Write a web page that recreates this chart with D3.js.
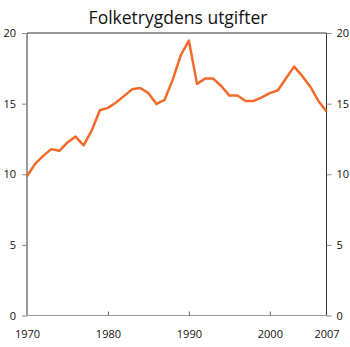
<!DOCTYPE html>
<html><head><meta charset="utf-8">
<script src="https://cdn.jsdelivr.net/npm/d3@7"></script>
<style>body{margin:0;background:#fff}svg{display:block}</style>
</head><body>
<svg id="c" width="350" height="347"></svg>
<script>
const title = "Folketrygdens utgifter";
const years = d3.range(1970, 2008);
const values = [9.85,10.74,11.3,11.78,11.66,12.25,12.67,12.04,13.1,14.53,
  14.7,15.08,15.55,16.02,16.11,15.74,14.98,15.27,16.7,18.44,
  19.46,16.4,16.77,16.77,16.25,15.57,15.57,15.19,15.19,15.45,
  15.74,15.95,16.8,17.62,16.96,16.2,15.19,14.44];
const yTicks = [0,5,10,15,20];
const xTicks = [1970,1980,1990,2000,2007];

const svg = d3.select("#c");
const L = 27, R = 326.5, T = 33, B = 315.5;
const x = d3.scaleLinear().domain([1970,2007]).range([L,R]);
const y = d3.scaleLinear().domain([0,20]).range([B,T]);
const font = "'Open Sans', sans-serif";

svg.append("text").attr("x", 178).attr("y", 24).attr("text-anchor","middle")
  .attr("font-family", font).attr("font-size", 17.5).attr("fill","#111").text(title);

svg.append("line").attr("x1",L).attr("x2",R).attr("y1",T).attr("y2",T)
  .attr("stroke","#333").attr("stroke-width",1);

const ya = svg.append("g").attr("transform",`translate(${L},0)`)
  .call(d3.axisLeft(y).tickValues(yTicks).tickSize(5).tickPadding(6));
const yb = svg.append("g").attr("transform",`translate(${R},0)`)
  .call(d3.axisRight(y).tickValues(yTicks).tickSize(5).tickPadding(5));
[ya,yb].forEach(g=>{
  g.select(".domain").attr("stroke","#333").attr("d", `M0,${T}V${B}`);
  g.selectAll(".tick line").attr("stroke","#888");
  g.selectAll(".tick text").attr("font-family",font).attr("font-size",11).attr("fill","#111");
});

const xa = svg.append("g").attr("transform",`translate(0,${B})`)
  .call(d3.axisBottom(x).tickValues(xTicks).tickFormat(d3.format("d")).tickSize(-4).tickPadding(15));
xa.select(".domain").attr("stroke","#999").attr("d", `M${L},0H${R}`);
xa.selectAll(".tick line").attr("stroke","#666");
xa.selectAll(".tick").filter(d=>d===1970||d===2007).select("line").remove();
xa.selectAll(".tick text").attr("font-family",font).attr("font-size",11).attr("fill","#111");

const line = d3.line().x((d,i)=>x(years[i])).y(d=>y(d));
svg.append("path").datum(values).attr("d", line).attr("fill","none")
  .attr("stroke","#f26a2a").attr("stroke-width",2.5).attr("stroke-linejoin","round");
</script>
</body></html>
